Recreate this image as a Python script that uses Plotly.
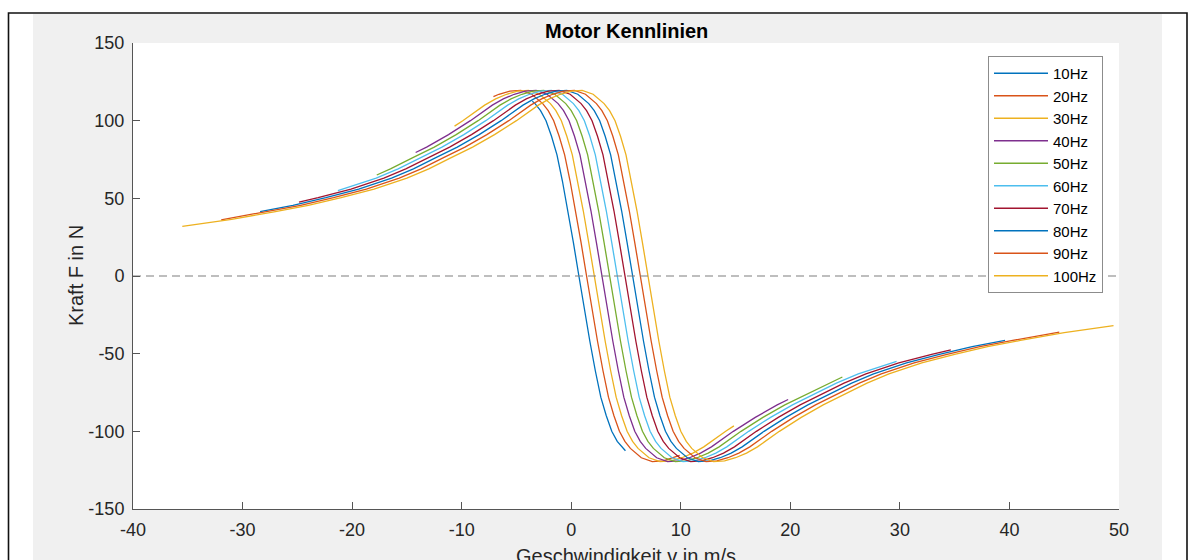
import plotly.graph_objects as go

# ---------------- data ----------------
frequencies = ["10Hz", "20Hz", "30Hz", "40Hz", "50Hz", "60Hz", "70Hz", "80Hz", "90Hz", "100Hz"]

v_10Hz = [-3.55, -3.3, -2.8, -2.3, -1.8, -1.3, -0.8, -0.3, 0.2, 0.7, 1.2, 1.7, 2.2, 2.7, 3.2, 3.7, 4.2, 4.7, 4.95]
F_10Hz = [112.5, 111, 106.5, 100, 90, 78, 61, 42, 21.5, 0, -21.5, -42, -61, -78, -90, -100, -106.5, -111, -112.5]

v_20Hz = [-7.1, -6.6, -5.6, -4.6, -3.6, -2.6, -2.1, -1.6, -1.1, -0.6, -0.1, 0.4, 0.9, 1.4,
          1.9, 2.4, 2.9, 3.4, 3.9, 4.4, 4.9, 5.4, 6.4, 7.4, 8.4, 9.4, 9.9]
F_20Hz = [115.5, 117, 119, 119.5, 117, 111, 106.5, 100, 90, 78, 61, 42, 21.5, 0,
          -21.5, -42, -61, -78, -90, -100, -106.5, -111, -117, -119.5, -119, -117, -115.5]

v_30Hz = [-10.65, -9.9, -7.9, -6.9, -5.9, -4.9, -3.9, -2.9, -1.9, -1.4, -0.9, -0.4, 0.1, 0.6, 1.1, 1.6, 2.1,
          2.6, 3.1, 3.6, 4.1, 4.6, 5.1, 5.6, 6.1, 7.1, 8.1, 9.1, 10.1, 11.1, 12.1, 14.1, 14.85]
F_30Hz = [96.5, 100, 110, 114, 117, 119, 119.5, 117, 111, 106.5, 100, 90, 78, 61, 42, 21.5, 0,
          -21.5, -42, -61, -78, -90, -100, -106.5, -111, -117, -119.5, -119, -117, -114, -110, -100, -96.5]

v_40Hz = [-14.2, -13.2, -11.2, -9.2, -7.2, -6.2, -5.2, -4.2, -3.2, -2.2, -1.2, -0.7, -0.2, 0.3, 0.8, 1.3, 1.8, 2.3, 2.8,
          3.3, 3.8, 4.3, 4.8, 5.3, 5.8, 6.3, 6.8, 7.8, 8.8, 9.8, 10.8, 11.8, 12.8, 14.8, 16.8, 18.8, 19.8]
F_40Hz = [79.5, 83, 91, 100, 110, 114, 117, 119, 119.5, 117, 111, 106.5, 100, 90, 78, 61, 42, 21.5, 0,
          -21.5, -42, -61, -78, -90, -100, -106.5, -111, -117, -119.5, -119, -117, -114, -110, -100, -91, -83, -79.5]

v_50Hz = [-17.75, -16.5, -14.5, -12.5, -10.5, -8.5, -6.5, -5.5, -4.5, -3.5, -2.5, -1.5, -0.5, 0, 0.5, 1, 1.5, 2, 2.5, 3, 3.5,
          4, 4.5, 5, 5.5, 6, 6.5, 7, 7.5, 8.5, 9.5, 10.5, 11.5, 12.5, 13.5, 15.5, 17.5, 19.5, 21.5, 23.5, 24.75]
F_50Hz = [65, 69, 76, 83, 91, 100, 110, 114, 117, 119, 119.5, 117, 111, 106.5, 100, 90, 78, 61, 42, 21.5, 0,
          -21.5, -42, -61, -78, -90, -100, -106.5, -111, -117, -119.5, -119, -117, -114, -110, -100, -91, -83, -76, -69, -65]

v_60Hz = [-21.3, -17.8, -15.8, -13.8, -11.8, -9.8, -7.8, -5.8, -4.8, -3.8, -2.8, -1.8, -0.8, 0.2, 0.7, 1.2, 1.7, 2.2, 2.7, 3.2, 3.7, 4.2,
          4.7, 5.2, 5.7, 6.2, 6.7, 7.2, 7.7, 8.2, 9.2, 10.2, 11.2, 12.2, 13.2, 14.2, 16.2, 18.2, 20.2, 22.2, 24.2, 26.2, 29.7]
F_60Hz = [55, 63, 69, 76, 83, 91, 100, 110, 114, 117, 119, 119.5, 117, 111, 106.5, 100, 90, 78, 61, 42, 21.5, 0,
          -21.5, -42, -61, -78, -90, -100, -106.5, -111, -117, -119.5, -119, -117, -114, -110, -100, -91, -83, -76, -69, -63, -55]

v_70Hz = [-24.85, -23.1, -20.1, -17.1, -15.1, -13.1, -11.1, -9.1, -7.1, -5.1, -4.1, -3.1, -2.1, -1.1, -0.1, 0.9, 1.4, 1.9, 2.4, 2.9, 3.4, 3.9, 4.4, 4.9,
          5.4, 5.9, 6.4, 6.9, 7.4, 7.9, 8.4, 8.9, 9.9, 10.9, 11.9, 12.9, 13.9, 14.9, 16.9, 18.9, 20.9, 22.9, 24.9, 26.9, 29.9, 32.9, 34.65]
F_70Hz = [47.6, 50.5, 56, 63, 69, 76, 83, 91, 100, 110, 114, 117, 119, 119.5, 117, 111, 106.5, 100, 90, 78, 61, 42, 21.5, 0,
          -21.5, -42, -61, -78, -90, -100, -106.5, -111, -117, -119.5, -119, -117, -114, -110, -100, -91, -83, -76, -69, -63, -56, -50.5, -47.6]

v_80Hz = [-28.4, -25.4, -22.4, -19.4, -16.4, -14.4, -12.4, -10.4, -8.4, -6.4, -4.4, -3.4, -2.4, -1.4, -0.4, 0.6, 1.6, 2.1, 2.6, 3.1, 3.6, 4.1, 4.6, 5.1, 5.6,
          6.1, 6.6, 7.1, 7.6, 8.1, 8.6, 9.1, 9.6, 10.6, 11.6, 12.6, 13.6, 14.6, 15.6, 17.6, 19.6, 21.6, 23.6, 25.6, 27.6, 30.6, 33.6, 36.6, 39.6]
F_80Hz = [41.5, 45.5, 50.5, 56, 63, 69, 76, 83, 91, 100, 110, 114, 117, 119, 119.5, 117, 111, 106.5, 100, 90, 78, 61, 42, 21.5, 0,
          -21.5, -42, -61, -78, -90, -100, -106.5, -111, -117, -119.5, -119, -117, -114, -110, -100, -91, -83, -76, -69, -63, -56, -50.5, -45.5, -41.5]

v_90Hz = [-31.95, -27.7, -24.7, -21.7, -18.7, -15.7, -13.7, -11.7, -9.7, -7.7, -5.7, -3.7, -2.7, -1.7, -0.7, 0.3, 1.3, 2.3, 2.8, 3.3, 3.8, 4.3, 4.8, 5.3, 5.8, 6.3,
          6.8, 7.3, 7.8, 8.3, 8.8, 9.3, 9.8, 10.3, 11.3, 12.3, 13.3, 14.3, 15.3, 16.3, 18.3, 20.3, 22.3, 24.3, 26.3, 28.3, 31.3, 34.3, 37.3, 40.3, 44.55]
F_90Hz = [36.2, 41.5, 45.5, 50.5, 56, 63, 69, 76, 83, 91, 100, 110, 114, 117, 119, 119.5, 117, 111, 106.5, 100, 90, 78, 61, 42, 21.5, 0,
          -21.5, -42, -61, -78, -90, -100, -106.5, -111, -117, -119.5, -119, -117, -114, -110, -100, -91, -83, -76, -69, -63, -56, -50.5, -45.5, -41.5, -36.2]

v_100Hz = [-35.5, -31, -27, -24, -21, -18, -15, -13, -11, -9, -7, -5, -3, -2, -1, 0, 1, 2, 3, 3.5, 4, 4.5, 5, 5.5, 6, 6.5, 7,
           7.5, 8, 8.5, 9, 9.5, 10, 10.5, 11, 12, 13, 14, 15, 16, 17, 19, 21, 23, 25, 27, 29, 32, 35, 38, 41, 45, 49.5]
F_100Hz = [32, 36.5, 41.5, 45.5, 50.5, 56, 63, 69, 76, 83, 91, 100, 110, 114, 117, 119, 119.5, 117, 111, 106.5, 100, 90, 78, 61, 42, 21.5, 0,
           -21.5, -42, -61, -78, -90, -100, -106.5, -111, -117, -119.5, -119, -117, -114, -110, -100, -91, -83, -76, -69, -63, -56, -50.5, -45.5, -41.5, -36.5, -32]

x_ticks = [-40, -30, -20, -10, 0, 10, 20, 30, 40, 50]
x_ticklabels = ["-40", "-30", "-20", "-10", "0", "10", "20", "30", "40", "50"]
y_ticks = [-150, -100, -50, 0, 50, 100, 150]
y_ticklabels = ["-150", "-100", "-50", "0", "50", "100", "150"]

series_v = [v_10Hz, v_20Hz, v_30Hz, v_40Hz, v_50Hz, v_60Hz, v_70Hz, v_80Hz, v_90Hz, v_100Hz]
series_F = [F_10Hz, F_20Hz, F_30Hz, F_40Hz, F_50Hz, F_60Hz, F_70Hz, F_80Hz, F_90Hz, F_100Hz]

# ---------------- styling ----------------
colors = ["#0072BD", "#D95319", "#EDB120", "#7E2F8E", "#77AC30",
          "#4DBEEE", "#A2142F", "#0072BD", "#D95319", "#EDB120"]
FONT = "Liberation Sans, Arial, Helvetica, sans-serif"
W, H = 1194, 560
L, R, T, B = 133, 1119, 43, 509  # axes box in pixels


def px(xp):
    return (xp - L) / (R - L)


def py(yp):
    return (B - yp) / (B - T)


fig = go.Figure()
for name, v, F, c in zip(frequencies, series_v, series_F, colors):
    fig.add_trace(go.Scatter(x=v, y=F, mode="lines", name=name,
                             line=dict(color=c, width=1.3)))

# dashed zero line
fig.add_trace(go.Scatter(x=[x_ticks[0], x_ticks[-1]], y=[0, 0], mode="lines",
                         line=dict(color="#7f7f7f", width=1.2, dash="8px,5px"),
                         showlegend=False, hoverinfo="skip"))

shapes = [
    # gray figure background
    dict(type="rect", xref="paper", yref="paper", x0=px(33), x1=px(1162), y0=py(600), y1=py(14),
         fillcolor="#f0f0f0", line=dict(width=0), layer="below"),
    # white axes area
    dict(type="rect", xref="paper", yref="paper", x0=0, x1=1, y0=0, y1=1,
         fillcolor="white", line=dict(width=0), layer="below"),
    # black outer frame
    dict(type="rect", xref="paper", yref="paper", x0=px(8.5), x1=px(1187), y0=py(600), y1=py(13),
         fillcolor="rgba(0,0,0,0)", line=dict(color="#111111", width=1.6), layer="above"),
]

annotations = [
    dict(text="<b>Motor Kennlinien</b>", xref="paper", yref="paper", x=0.5, y=py(31),
         xanchor="center", yanchor="middle", showarrow=False,
         font=dict(family=FONT, size=20, color="#000000")),
    dict(text="Kraft F in N", xref="paper", yref="paper", x=px(76), y=0.5, textangle=-90,
         xanchor="center", yanchor="middle", showarrow=False,
         font=dict(family=FONT, size=20, color="#262626")),
    dict(text="Geschwindigkeit v in m/s", xref="paper", yref="paper", x=0.5, y=py(556),
         xanchor="center", yanchor="middle", showarrow=False,
         font=dict(family=FONT, size=20, color="#262626")),
]

axis_common = dict(showgrid=False, zeroline=False, showline=True, linecolor="#555555", linewidth=1,
                   ticks="inside", ticklen=7, tickcolor="#555555", tickwidth=1, mirror=False,
                   ticklabelstandoff=4,
                   tickfont=dict(family=FONT, size=18, color="#262626"))

fig.update_layout(
    width=W, height=H,
    margin=dict(l=L, r=W - R, t=T, b=H - B, pad=0),
    paper_bgcolor="white", plot_bgcolor="white",
    xaxis=dict(range=[-40, 50], tickvals=x_ticks, ticktext=x_ticklabels, **axis_common),
    yaxis=dict(range=[-150, 150], tickvals=y_ticks, ticktext=y_ticklabels, **axis_common),
    shapes=shapes, annotations=annotations,
    showlegend=True,
    legend=dict(x=px(988), y=py(56), xanchor="left", yanchor="top",
                bgcolor="white", bordercolor="#8c8c8c", borderwidth=1,
                font=dict(family=FONT, size=15, color="#000000"),
                itemwidth=54, tracegroupgap=0),
)

fig.write_html("out.html", config={"displayModeBar": False},
               post_script="document.body.style.margin='0px';")
